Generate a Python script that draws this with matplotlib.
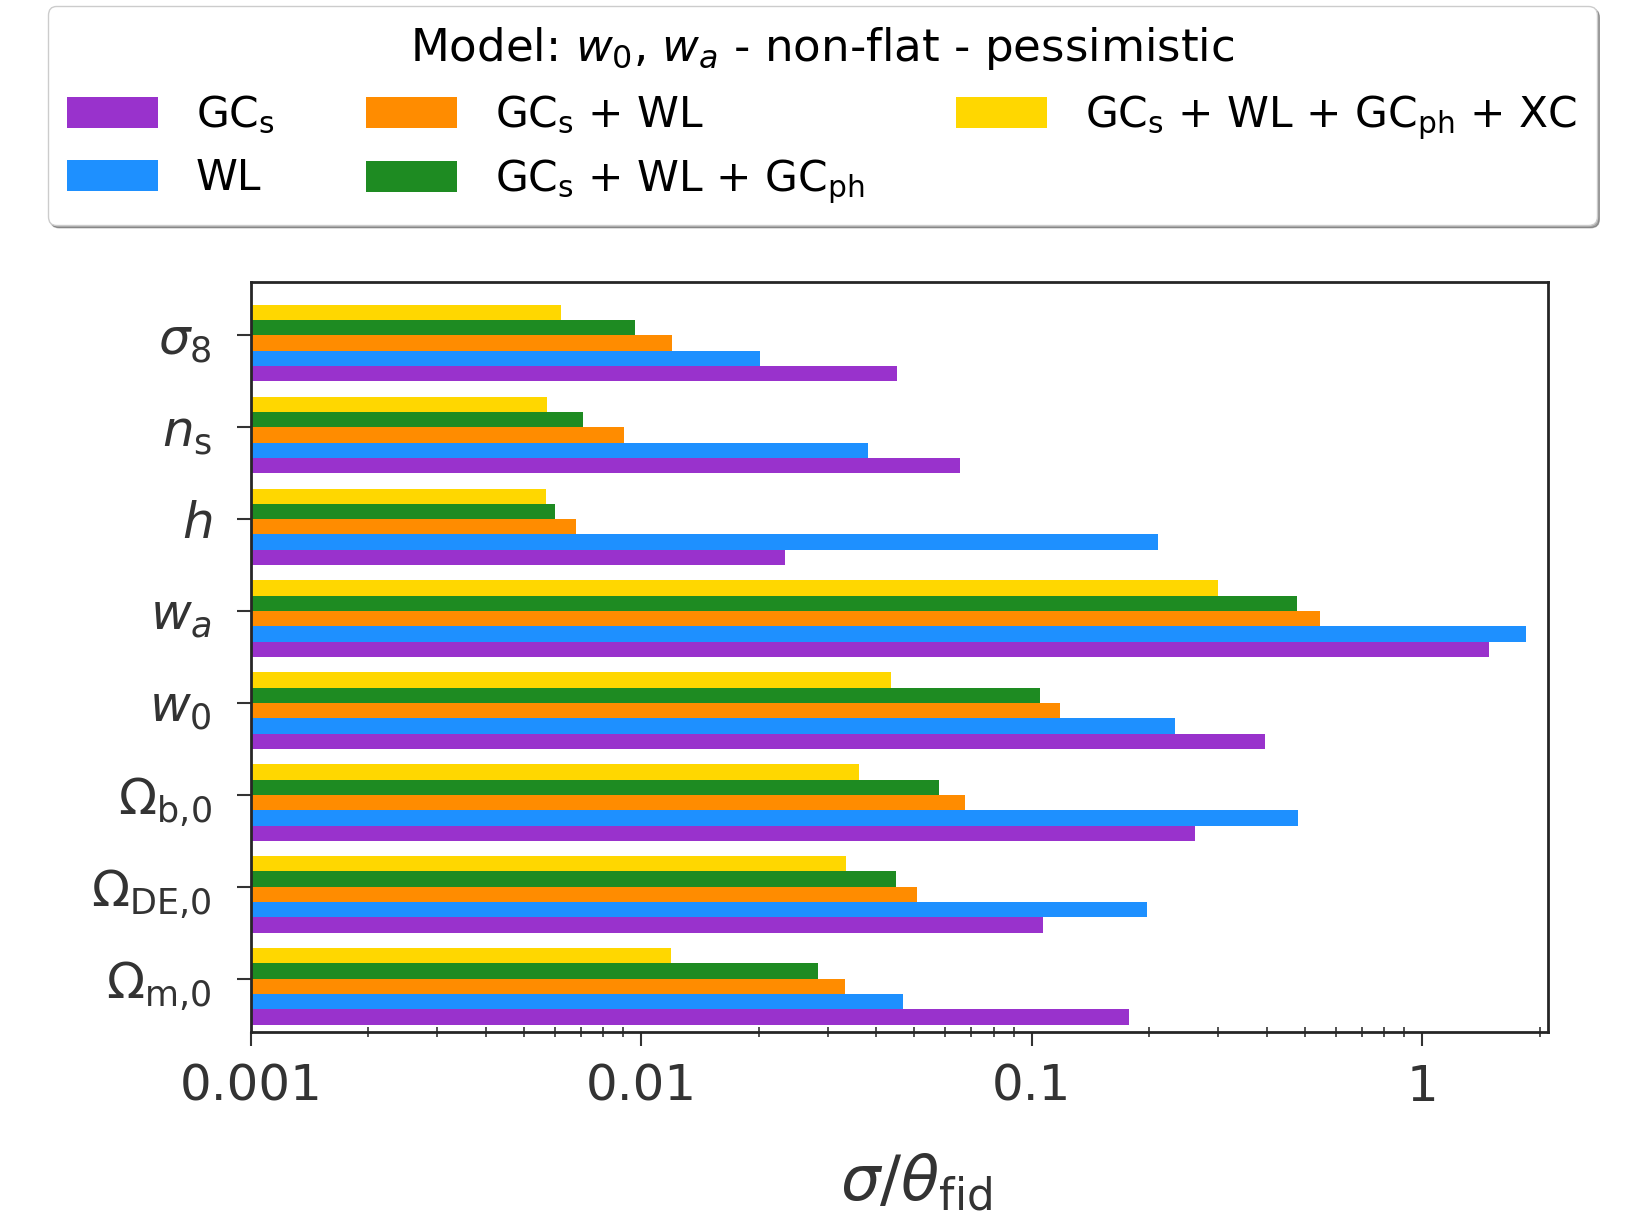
import numpy as np
import matplotlib
matplotlib.use("Agg")
import matplotlib.pyplot as plt
from matplotlib.ticker import FixedLocator, FixedFormatter, LogLocator, NullFormatter

params = [r"$\Omega_{\mathrm{m}{,}0}$", r"$\Omega_{\mathrm{DE}{,}0}$", r"$\Omega_{\mathrm{b}{,}0}$",
          r"$w_0$", r"$w_a$", r"$h$", r"$n_\mathrm{s}$", r"$\sigma_8$"]

labels = [r"GC$_\mathrm{s}$", "WL", r"GC$_\mathrm{s}$ + WL",
          r"GC$_\mathrm{s}$ + WL + GC$_\mathrm{ph}$",
          r"GC$_\mathrm{s}$ + WL + GC$_\mathrm{ph}$ + XC"]
colors = ["#9932CC", "#1E90FF", "#FF8C00", "#1E8B22", "#FFD700"]

# relative errors, same order as params (bottom to top)
gcs        = [0.177, 0.107, 0.262, 0.395, 1.48, 0.0233, 0.0654, 0.0453]
wl         = [0.0467, 0.197, 0.480, 0.233, 1.84, 0.210, 0.0380, 0.0201]
gcs_wl     = [0.0332, 0.0509, 0.0675, 0.118, 0.546, 0.00682, 0.00903, 0.0120]
gcs_wl_ph  = [0.0283, 0.0448, 0.0579, 0.105, 0.477, 0.00603, 0.00711, 0.00966]
gcs_wl_xc  = [0.0119, 0.0334, 0.0362, 0.0437, 0.300, 0.00571, 0.00574, 0.00622]
series = [gcs, wl, gcs_wl, gcs_wl_ph, gcs_wl_xc]

plt.rcParams["font.family"] = ["DejaVu Sans"]
plt.rcParams["mathtext.fontset"] = "dejavusans"

fig = plt.figure(figsize=(16.25, 12.21), dpi=100)
ax = fig.add_axes([0.1543, 0.1548, 0.7983, 0.6142])

y = np.arange(len(params))
w = 1 / 6
for i, (vals, lab, c) in enumerate(zip(series, labels, colors)):
    ax.barh(y + (i - 3) * w, vals, height=w, align="edge", color=c, label=lab)

ax.set_xscale("log")
ax.set_xlim(1e-3, 2.1)
ax.set_ylim(-0.58, 7.58)
ax.xaxis.set_major_locator(FixedLocator([1e-3, 1e-2, 1e-1, 1]))
ax.xaxis.set_major_formatter(FixedFormatter(["0.001", "0.01", "0.1", "1"]))
ax.xaxis.set_minor_locator(LogLocator(base=10, subs=np.arange(2, 10)))
ax.xaxis.set_minor_formatter(NullFormatter())
ax.set_yticks(y)
ax.set_yticklabels(params)

ax.tick_params(axis="both", which="major", labelsize=36, colors="0.2",
               direction="out", length=10, width=1.5)
ax.tick_params(axis="x", which="major", pad=12)
ax.tick_params(axis="y", which="major", pad=18)
ax.tick_params(axis="x", which="minor", direction="inout", length=7, width=1.2, colors="0.2")
for s in ax.spines.values():
    s.set_linewidth(2)
    s.set_color("0.15")

ax.set_xlabel(r"$\sigma/\theta_{\rm fid}$", fontsize=45, color="0.2", labelpad=38)
ax.xaxis.set_label_coords(0.513, -0.16)

handles, labs = ax.get_legend_handles_labels()
leg = fig.legend(handles, labs, loc="upper left", bbox_to_anchor=(0.0294, 0.995),
                 borderaxespad=0, ncol=3, fontsize=30.5,
                 title=r"Model: $w_0$, $w_a$ - non-flat - pessimistic",
                 title_fontsize=32.5, shadow=True, fancybox=True, frameon=True,
                 handlelength=2.15, handleheight=0.75, handletextpad=0.9,
                 columnspacing=2.15, labelspacing=0.5, borderpad=0.45)
leg.get_frame().set_edgecolor("0.8")

fig.savefig("out.png", dpi=100)
